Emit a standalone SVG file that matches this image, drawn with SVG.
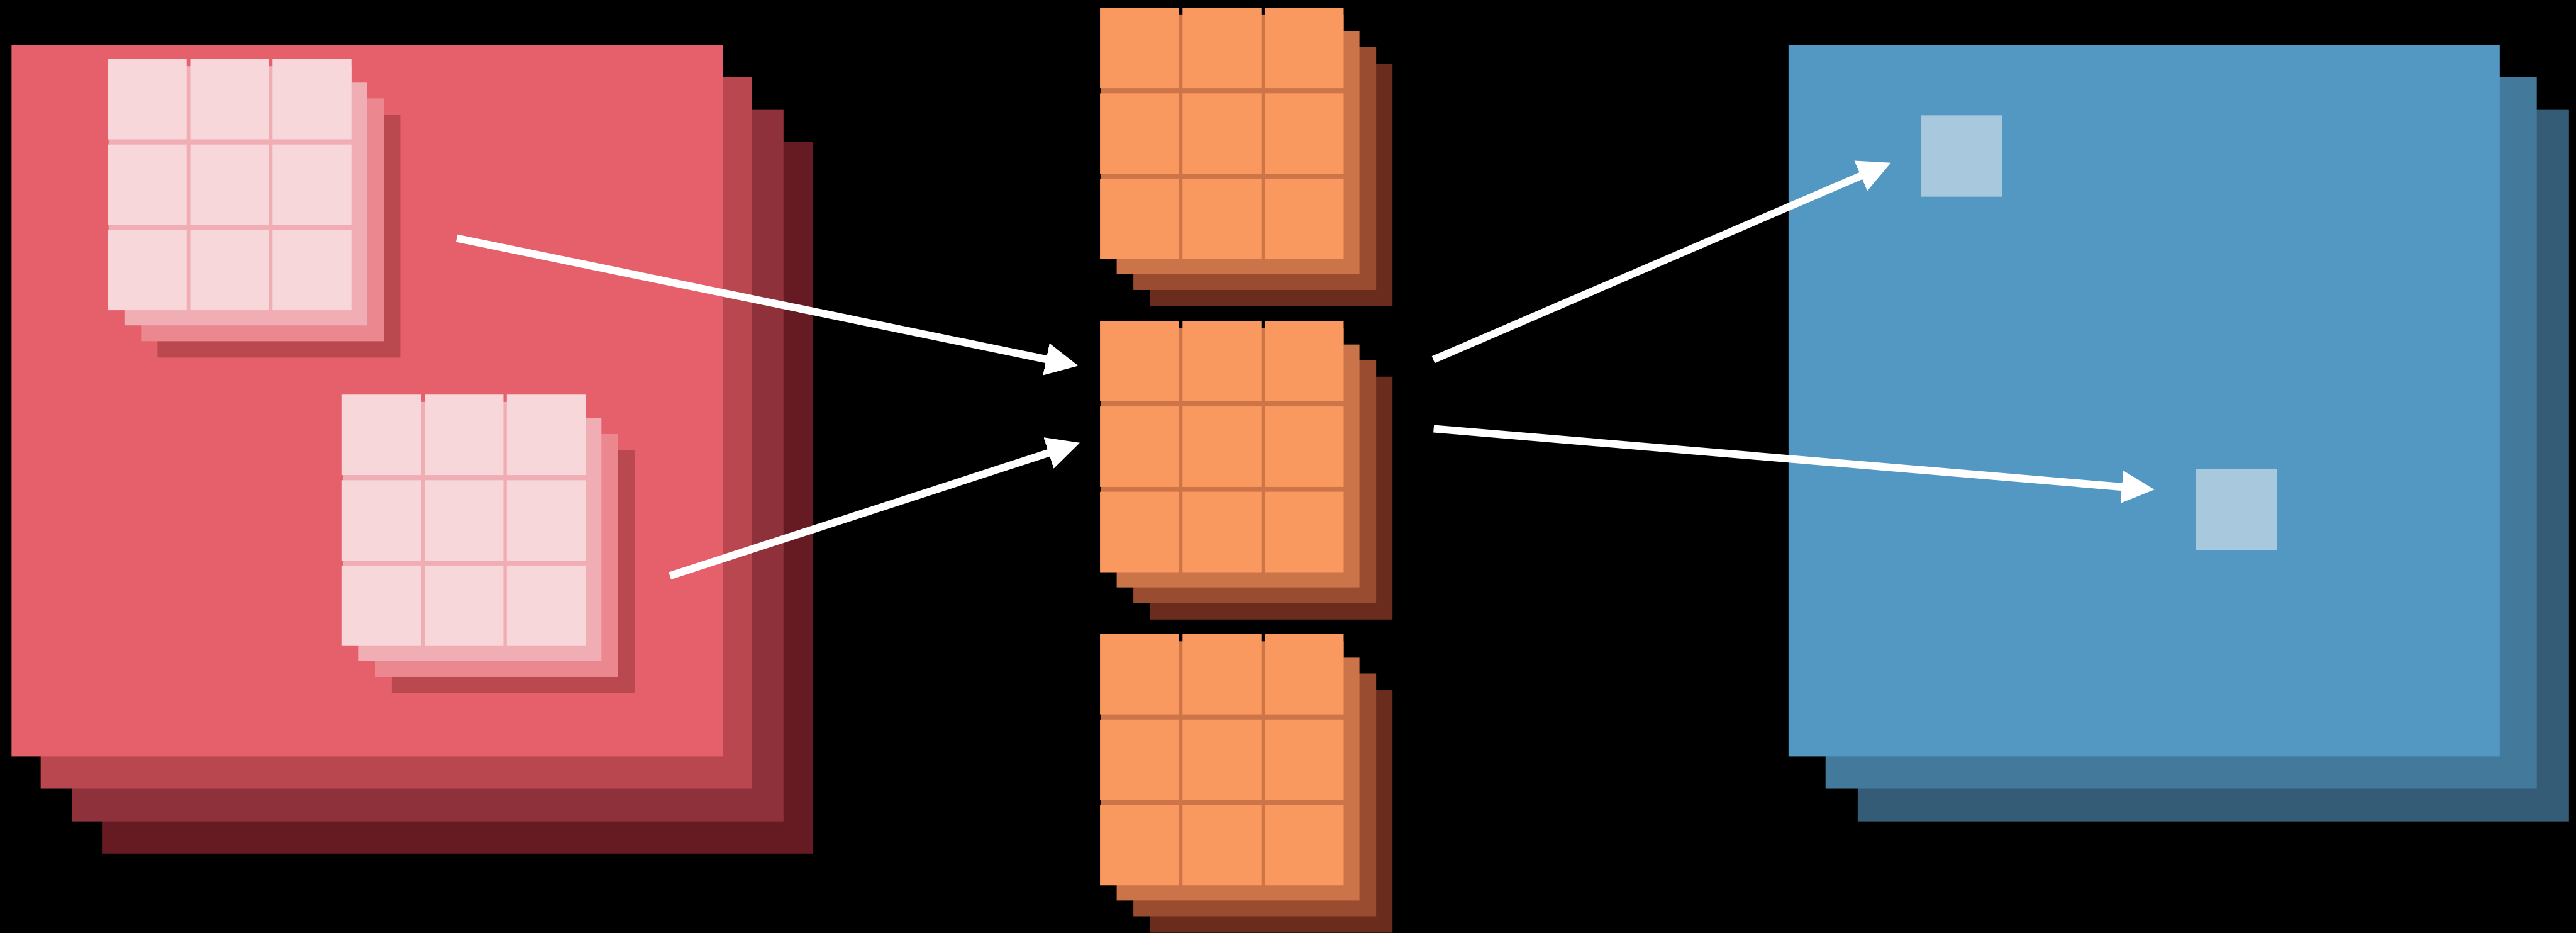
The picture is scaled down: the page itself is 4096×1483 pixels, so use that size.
<svg xmlns="http://www.w3.org/2000/svg" xmlns:xlink="http://www.w3.org/1999/xlink" width="4096" height="1483" viewBox="0 0 4096 1483">
  <style>
    .cellP { fill: #f7d7d9; }
    .cellO { fill: #f9995f; }
    .conn { stroke: #ffffff; stroke-width: 12.5; fill: none; stroke-linecap: butt; }
  </style>
  <defs>
    <marker id="head" viewBox="0 0 54 54" refX="2" refY="27" markerWidth="54" markerHeight="54" markerUnits="userSpaceOnUse" orient="auto">
      <path d="M0,0 L54,27 L0,54 Z" fill="#ffffff"/>
    </marker>
    <g id="pinkKernel">
      <rect x="82" y="92" width="400" height="400" fill="#b9484f"/>
      <rect x="55" y="65" width="400" height="400" fill="#eb878e"/>
      <rect x="27.5" y="39" width="400" height="400" fill="#f0adb3"/>
      <rect x="1.5" y="12" width="400" height="400" fill="#f0adb3"/>
      <rect class="cellP" x="0" y="0" width="130" height="132.5"/>
      <rect class="cellP" x="136" y="0" width="130" height="132.5"/>
      <rect class="cellP" x="271.5" y="0" width="130" height="132.5"/>
      <rect class="cellP" x="0" y="141" width="130" height="132.5"/>
      <rect class="cellP" x="136" y="141" width="130" height="132.5"/>
      <rect class="cellP" x="271.5" y="141" width="130" height="132.5"/>
      <rect class="cellP" x="0" y="281.5" width="130" height="132.5"/>
      <rect class="cellP" x="136" y="281.5" width="130" height="132.5"/>
      <rect class="cellP" x="271.5" y="281.5" width="130" height="132.5"/>
    </g>
    <g id="orangeKernel">
      <rect x="82" y="92" width="400" height="400" fill="#6a2c1d"/>
      <rect x="55" y="65" width="400" height="400" fill="#9a4c30"/>
      <rect x="27.5" y="39" width="400" height="400" fill="#cb7349"/>
      <rect x="1.5" y="12" width="400" height="400" fill="#cd7549"/>
      <rect class="cellO" x="0" y="0" width="130" height="132.5"/>
      <rect class="cellO" x="136" y="0" width="130" height="132.5"/>
      <rect class="cellO" x="271.5" y="0" width="130" height="132.5"/>
      <rect class="cellO" x="0" y="141" width="130" height="132.5"/>
      <rect class="cellO" x="136" y="141" width="130" height="132.5"/>
      <rect class="cellO" x="271.5" y="141" width="130" height="132.5"/>
      <rect class="cellO" x="0" y="281.5" width="130" height="132.5"/>
      <rect class="cellO" x="136" y="281.5" width="130" height="132.5"/>
      <rect class="cellO" x="271.5" y="281.5" width="130" height="132.5"/>
    </g>
  </defs>
  <rect x="0" y="0" width="4096" height="1483" fill="#000000"/>
  <g transform="scale(0.965)">
    <g id="input-volume">
      <rect x="168" y="234" width="1172" height="1172" fill="#661b23"/>
      <rect x="119" y="181" width="1172" height="1172" fill="#8e313a"/>
      <rect x="67" y="127" width="1172" height="1172" fill="#b9474f"/>
      <rect x="19" y="74" width="1172" height="1172" fill="#e5606b"/>
    </g>
    <g id="input-patch-1">
      <use xlink:href="#pinkKernel" href="#pinkKernel" transform="translate(177.5,97)"/>
    </g>
    <g id="input-patch-2">
      <use xlink:href="#pinkKernel" href="#pinkKernel" transform="translate(563.5,650)"/>
    </g>
    <g id="filter-1">
      <use xlink:href="#orangeKernel" href="#orangeKernel" transform="translate(1812.5,12.7)"/>
    </g>
    <g id="filter-2">
      <use xlink:href="#orangeKernel" href="#orangeKernel" transform="translate(1812.5,528.5)"/>
    </g>
    <g id="filter-3">
      <use xlink:href="#orangeKernel" href="#orangeKernel" transform="translate(1812.5,1044.3)"/>
    </g>
    <g id="output-volume">
      <rect x="3061" y="181" width="1172" height="1172" fill="#345c77"/>
      <rect x="3008" y="127" width="1172" height="1172" fill="#437a9c"/>
      <rect x="2947" y="74" width="1172" height="1172" fill="#5398c2"/>
    </g>
    <g id="output-cell-1">
      <rect x="3165" y="190" width="134" height="134" fill="#a8c9dd"/>
    </g>
    <g id="output-cell-2">
      <rect x="3618" y="772" width="134" height="134" fill="#a8c9dd"/>
    </g>
    <g id="connectors">
      <path class="conn" d="M752.5,392.3 L1725.8,592.2" marker-end="url(#head)"/>
      <path class="conn" d="M1103.8,948.5 L1729.8,745.4" marker-end="url(#head)"/>
      <path class="conn" d="M2361.7,592.5 L3067.9,288.8" marker-end="url(#head)"/>
      <path class="conn" d="M2362.3,706.2 L3498.2,802.2" marker-end="url(#head)"/>
    </g>
  </g>
</svg>
